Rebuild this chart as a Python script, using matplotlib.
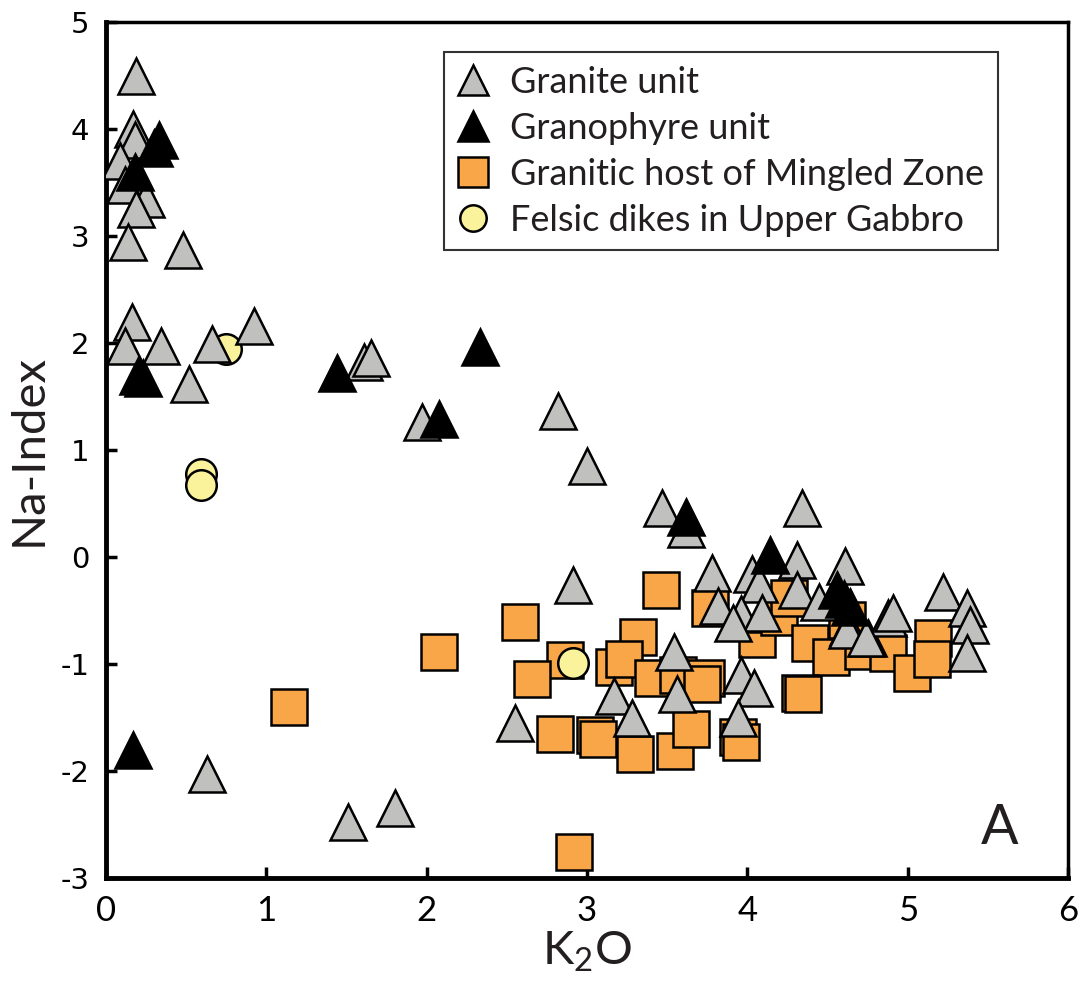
import matplotlib
matplotlib.use("Agg")
import matplotlib.pyplot as plt
from matplotlib.lines import Line2D

# ---------------- data ----------------
granite_k2o = [0.19, 0.17, 0.18, 0.09, 0.12, 0.25, 0.19, 0.14, 0.48, 0.16, 0.12, 0.34,
               0.52, 0.66, 0.92, 1.61, 1.65, 1.97, 2.82, 3.00, 3.47, 3.62, 4.34, 2.91,
               3.78, 4.03, 4.07, 4.31, 4.31, 4.61, 4.45, 4.63, 4.75, 4.88, 4.91, 5.22,
               5.37, 5.39, 5.37, 3.82, 3.96, 4.09, 3.91, 3.54, 3.17, 3.56, 2.55, 3.28,
               3.96, 4.04, 3.94, 0.63, 1.51, 1.80, 4.62, 4.74]
granite_na = [4.50, 4.00, 3.90, 3.70, 3.48, 3.35, 3.25, 2.94, 2.87, 2.20, 1.97, 1.97,
              1.62, 1.99, 2.16, 1.82, 1.86, 1.26, 1.36, 0.85, 0.46, 0.26, 0.46, -0.26,
              -0.15, -0.16, -0.25, -0.03, -0.31, -0.08, -0.42, -0.65, -0.76, -0.57, -0.52, -0.33,
              -0.48, -0.64, -0.90, -0.46, -0.53, -0.52, -0.62, -0.89, -1.30, -1.28, -1.55, -1.50,
              -1.10, -1.22, -1.50, -2.03, -2.48, -2.35, -0.68, -0.76]

granophyre_k2o = [0.33, 0.30, 0.18, 0.20, 0.23, 1.44, 2.33, 2.08, 3.62, 4.14, 4.56, 4.60, 4.64, 0.17]
granophyre_na = [3.90, 3.82, 3.60, 1.69, 1.67, 1.72, 1.96, 1.29, 0.37, 0.02, -0.31, -0.39, -0.47, -1.80]

host_k2o = [1.14, 2.08, 2.92, 3.46, 2.58, 2.86, 2.66, 3.32, 3.17, 3.23, 3.41, 3.57,
            3.74, 3.72, 2.80, 3.05, 3.07, 3.30, 3.55, 3.65, 3.94, 3.96, 3.77, 4.06,
            4.20, 4.26, 4.39, 4.52, 4.62, 4.72, 4.88, 5.03, 5.16, 5.15, 4.33, 4.35]
host_na = [-1.40, -0.89, -2.76, -0.31, -0.61, -0.96, -1.14, -0.75, -1.03, -0.95, -1.13, -1.10,
           -1.13, -1.19, -1.65, -1.66, -1.70, -1.84, -1.81, -1.61, -1.68, -1.73, -0.48, -0.77,
           -0.56, -0.38, -0.80, -0.93, -0.59, -0.88, -0.90, -1.08, -0.76, -0.95, -1.27, -1.28]

dikes_k2o = [0.75, 0.59, 0.59, 2.91]
dikes_na = [1.94, 0.78, 0.67, -0.99]

xticks = [0, 1, 2, 3, 4, 5, 6]
yticks = [-3, -2, -1, 0, 1, 2, 3, 4, 5]

labels = ["Granite unit", "Granophyre unit", "Granitic host of Mingled Zone",
          "Felsic dikes in Upper Gabbro"]

# ---------------- style ----------------
GRAY = "#c0c0bf"
ORANGE = "#f8a648"
YELLOW = "#faf39c"
TEXT = "#231f20"
LEG = ["Lato", "DejaVu Sans"]

plt.rcParams["mathtext.fontset"] = "custom"
plt.rcParams["mathtext.rm"] = "Lato"
plt.rcParams["mathtext.default"] = "regular"

fig = plt.figure(figsize=(10.8, 9.85), dpi=100)
ax = fig.add_axes([106 / 1080, 1 - 878 / 985, (1068 - 106) / 1080, (878 - 22) / 985])

ax.plot(host_k2o, host_na, ls="none", marker="s", ms=26, mfc=ORANGE, mec="black", mew=1.8, zorder=3)
ax.plot(dikes_k2o, dikes_na, ls="none", marker="o", ms=22, mfc=YELLOW, mec="black", mew=1.8, zorder=4)
ax.plot(granite_k2o, granite_na, ls="none", marker="^", ms=25.5, mfc=GRAY, mec="black", mew=1.8, zorder=5)
ax.plot(granophyre_k2o, granophyre_na, ls="none", marker="^", ms=25.5, mfc="black", mec="black", mew=1.8, zorder=6)

ax.set_xlim(0, 6)
ax.set_ylim(-3, 5)
ax.set_xticks(xticks)
ax.set_yticks(yticks)
ax.set_xticklabels([str(v) for v in xticks], fontsize=25, family=LEG)
ax.set_yticklabels([str(v) for v in yticks], fontsize=21, family="DejaVu Sans")
ax.tick_params(axis="both", direction="in", length=8, width=2.5)
ax.tick_params(axis="x", pad=12)
ax.tick_params(axis="y", pad=12)
for side in ["left", "bottom"]:
    ax.spines[side].set_linewidth(3.5)
for side in ["top", "right"]:
    ax.spines[side].set_linewidth(2.5)

ax.set_xlabel("K$_2$O", fontsize=34, family=LEG, labelpad=2, color=TEXT)
ax.set_ylabel("Na-Index", fontsize=34, family=LEG, labelpad=8, color=TEXT)

ax.text(0.929, 0.058, "A", transform=ax.transAxes, fontsize=40, family=LEG,
        ha="center", va="center", color=TEXT)

handles = [
    Line2D([], [], ls="none", marker="^", ms=22, mfc=GRAY, mec="black", mew=1.8),
    Line2D([], [], ls="none", marker="^", ms=22, mfc="black", mec="black", mew=1.8),
    Line2D([], [], ls="none", marker="s", ms=21, mfc=ORANGE, mec="black", mew=1.8),
    Line2D([], [], ls="none", marker="o", ms=19, mfc=YELLOW, mec="black", mew=1.8),
]
leg = ax.legend(handles, labels, loc="upper right", bbox_to_anchor=((998 - 106) / 962, (878 - 52) / 856),
                borderaxespad=0, frameon=True, fancybox=False, edgecolor="black",
                prop={"family": LEG, "size": 26}, handlelength=0.85, handletextpad=0.6,
                labelspacing=0.36, borderpad=0.38, labelcolor=TEXT)
leg.get_frame().set_linewidth(1.5)
leg.set_zorder(10)

fig.savefig("out.png", dpi=100)
